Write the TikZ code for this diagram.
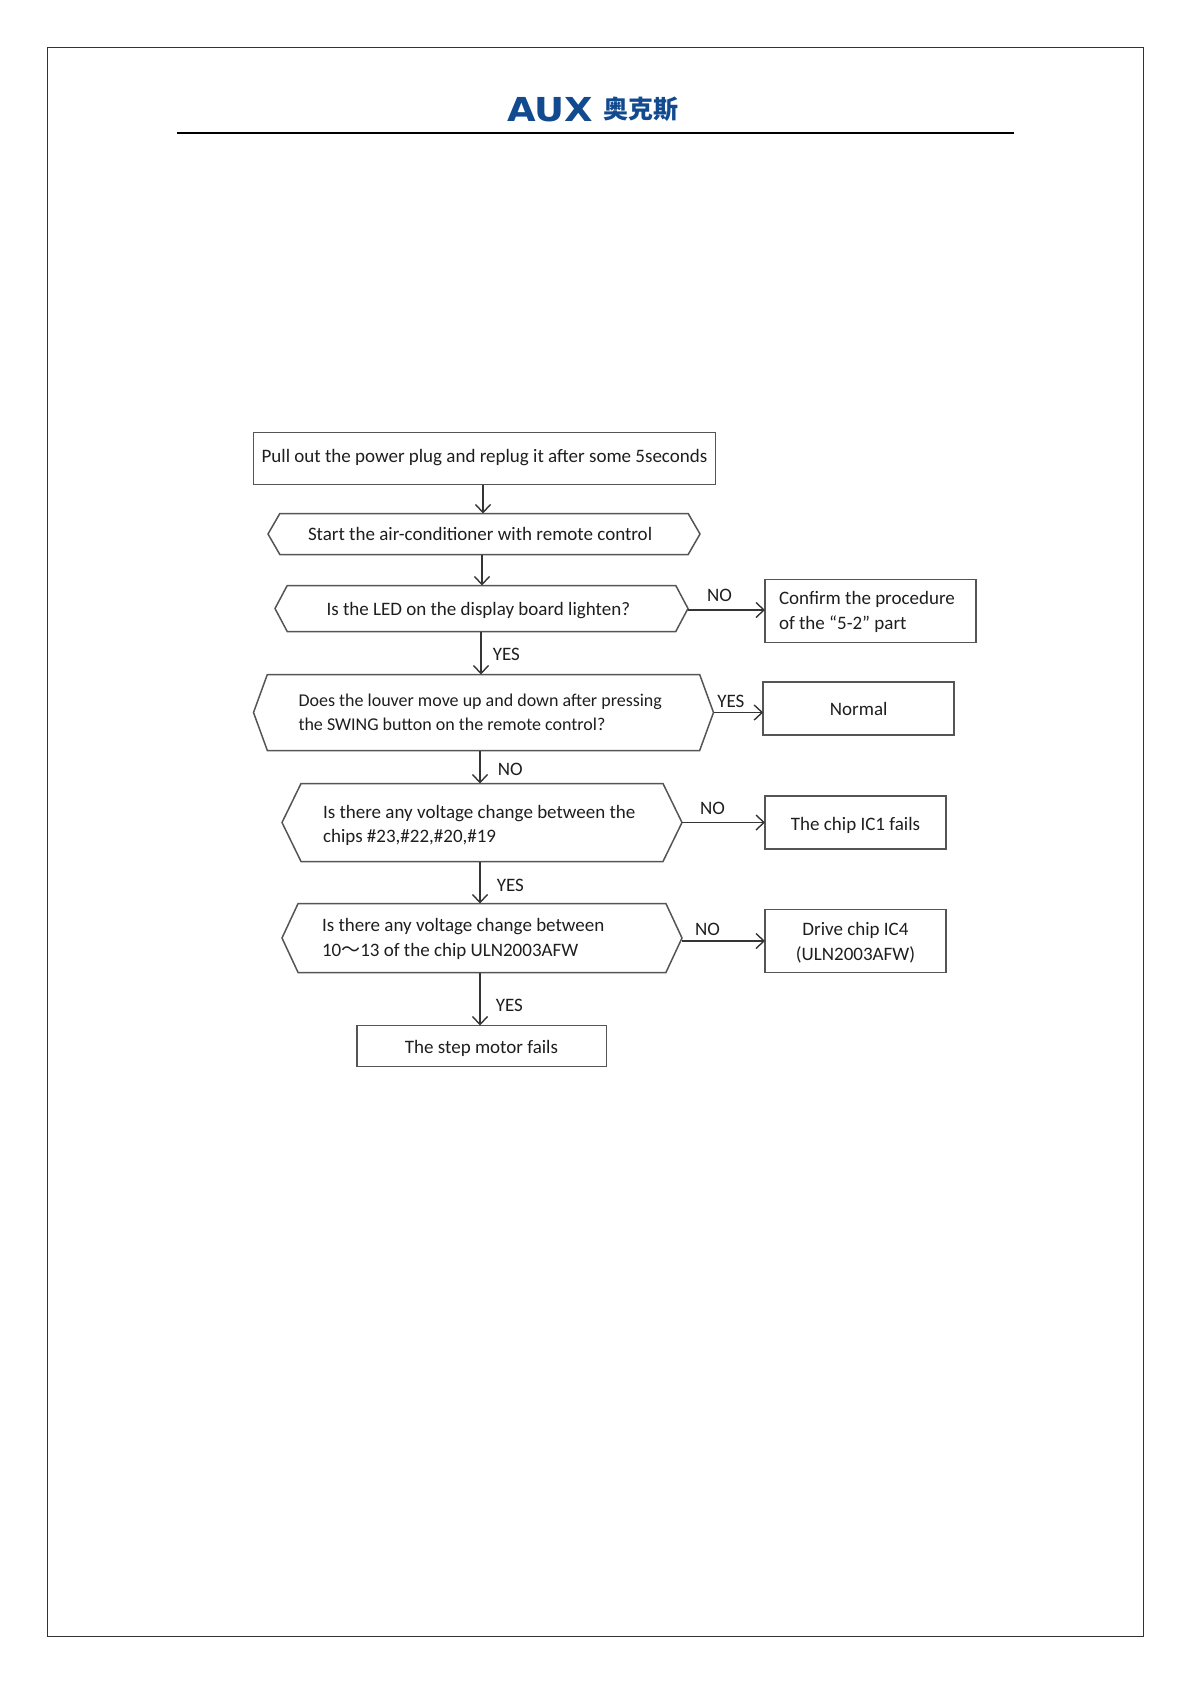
\documentclass[tikz,border=0pt]{standalone}
\usepackage{fontspec}
\setmainfont{Carlito}
\newfontfamily\cjk{Noto Sans CJK SC}
\newfontfamily\logofont{DejaVu Sans}
\usetikzlibrary{arrows.meta, positioning, shapes.symbols}
\definecolor{edgegray}{HTML}{555555}
\definecolor{inkgray}{HTML}{1E1E1E}
\definecolor{auxblue}{HTML}{114A8F}

\begin{document}
\begin{tikzpicture}[
        x=1pt, y=-1pt,
        txt/.style={font=\fontsize{19}{24.6}\selectfont, text=inkgray},
        act/.style={rectangle, draw=edgegray, line width=1.5pt, txt, align=center, inner sep=0pt, outer sep=0pt},
        ask/.style={signal, signal to=west and east, draw=edgegray, line width=1.5pt, txt,
                    align=flush left, inner sep=0pt, outer sep=0pt},
        arr/.style={-{Straight Barb[length=8pt,width=15pt,line width=1.4pt]}, line width=1.6pt, draw=inkgray!90},
        lab/.style={txt, inner sep=0pt},
        one/.style={text height=#1, text depth=0pt},
        two/.style={text height=0pt, text depth=#1}]
      \useasboundingbox (0,0) rectangle (1191,1684);
      \draw[line width=1pt, black!80] (47,47) rectangle (1143,1636);
      \node[font=\logofont\bfseries\fontsize{33}{33}\selectfont, text=auxblue, inner sep=0pt] (aux) at (550,109.5) {\scalebox{1.12}[1]{AUX}};
      \node[font=\cjk\bfseries\fontsize{25}{25}\selectfont, text=auxblue, inner sep=0pt, right=10pt of aux] (auxcn) {奥克斯};
      \coordinate (ruleL) at (177,133);
      \coordinate (ruleR) at (1014,133);
      \draw[line width=1.6pt] (ruleL) -- (ruleR);

      \node[act, one=8pt, minimum width=462pt, minimum height=52pt] (pull) at (484.5,458.5) {Pull out the power plug and replug it after some 5seconds};
      \node[ask, one=12pt, signal pointer angle=120, minimum width=432pt, minimum height=41pt, text width=352pt, below=29pt of pull, xshift=-0.5pt] (start) {Start the air-conditioner with remote control};
      \node[ask, one=14pt, signal pointer angle=124, minimum width=413pt, minimum height=46pt, text width=310pt, below=31pt of start, xshift=-2.5pt] (led) {Is the LED on the display board lighten?};
      \node[ask, two=11.6pt, signal pointer angle=140, minimum width=460pt, minimum height=76pt, text width=370pt, font=\fontsize{18}{23.6}\selectfont, below=43pt of led, xshift=2pt] (louver) {Does the louver move up and down after pressing\\the SWING button on the remote control?};
      \node[ask, two=8.6pt, signal pointer angle=128, minimum width=400pt, minimum height=78pt, text width=318pt, below=33pt of louver, xshift=-1.5pt] (chips) {Is there any voltage change between the\\chips \#23,\#22,\#20,\#19};
      \node[ask, two=12.6pt, signal pointer angle=130, minimum width=400pt, minimum height=69pt, text width=320pt, below=42pt of chips] (drain) {Is there any voltage change between\\10{\cjk ～}13 of the chip ULN2003AFW};
      \node[act, one=14pt, minimum width=249.5pt, minimum height=41pt, below=53pt of drain, xshift=-0.5pt] (motor) {The step motor fails};

      \node[act, two=12.6pt, minimum width=211pt, minimum height=63pt, text width=183pt, align=flush left, right=77pt of led, yshift=-2.5pt] (confirm) {Confirm the procedure\\of the “5-2” part};
      \node[act, one=14pt, minimum width=191pt, minimum height=53pt, right=49.7pt of louver, yshift=4pt] (normal) {Normal};
      \node[act, one=16pt, minimum width=181pt, minimum height=53pt, right=83pt of chips] (ic1) {The chip IC1 fails};
      \node[act, two=10.6pt, minimum width=181pt, minimum height=63pt, text width=170pt, align=flush center, right=83pt of drain, yshift=-3pt] (ic4) {Drive chip IC4\\(ULN2003AFW)};

      \draw[arr] ([xshift=-1.5pt]pull.south) -- ([xshift=-1.5pt]pull.south |- start.north);
      \draw[arr] ([xshift=-2pt]start.south) -- ([xshift=-2pt]start.south |- led.north);
      \draw[arr] ([xshift=-0.5pt]led.south) -- node[lab, right=11pt, yshift=-1pt] (led yes) {YES} ([xshift=-0.5pt]led.south |- louver.north);
      \draw[arr] ([xshift=-3.5pt]louver.south) -- node[lab, right=17pt, yshift=-2pt] (louver no) {NO} ([xshift=-3.5pt]louver.south |- chips.north);
      \draw[arr] ([xshift=-2pt]chips.south) -- node[lab, right=16pt, yshift=-3pt] (chips yes) {YES} ([xshift=-2pt]chips.south |- drain.north);
      \draw[arr] ([xshift=-2pt]drain.south) -- node[lab, right=15pt, yshift=-6pt] (drain yes) {YES} ([xshift=-2pt]drain.south |- motor.north);

      \draw[arr] ([yshift=-1.5pt]led.east) -- node[lab, above=7.5pt, xshift=-7pt] (led no) {NO} ([yshift=-1.5pt]led.east -| confirm.west);
      \draw[arr] (louver.east) -- node[lab, above=4pt, xshift=-7.5pt] (louver yes) {YES} (louver.east -| normal.west);
      \draw[arr] (chips.east) -- node[lab, above=7pt, xshift=-11pt] (chips no) {NO} (chips.east -| ic1.west);
      \draw[arr] ([yshift=-3pt]drain.east) -- node[lab, above=5pt, xshift=-16pt] (drain no) {NO} ([yshift=-3pt]drain.east -| ic4.west);
\end{tikzpicture}
\end{document}
